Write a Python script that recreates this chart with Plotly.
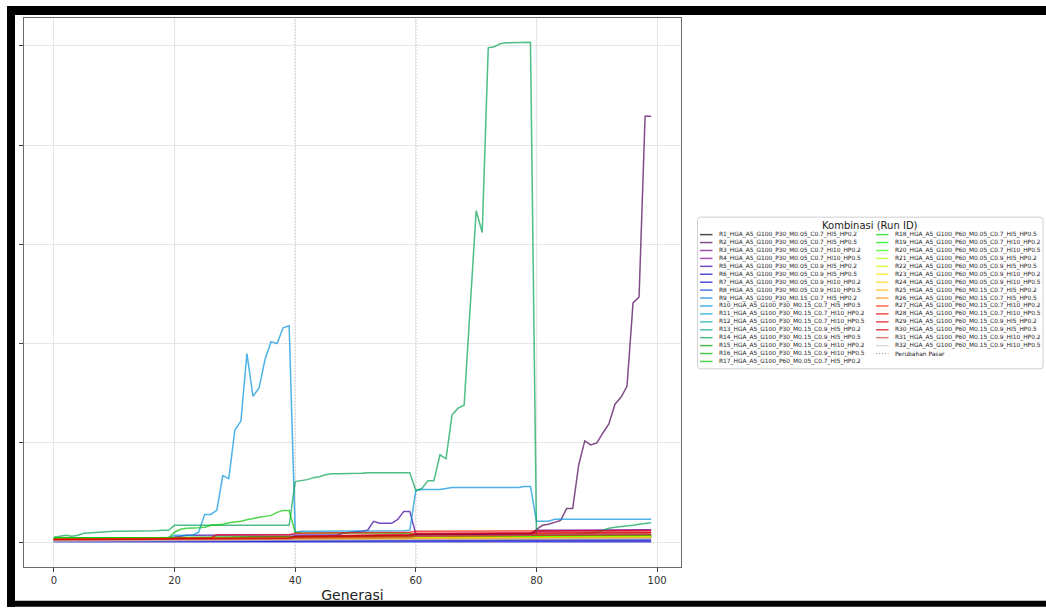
import numpy as np
import plotly.graph_objects as go

# ---------------- DATA ----------------
GENS = list(range(100))
MARKET_CHANGES = [20, 40, 60, 80]
X_TICKS = [0, 20, 40, 60, 80, 100]
Y_TICKS = [0, 100, 200, 300, 400, 500]

RUN_IDS = [
    "R1_HGA_A5_G100_P30_M0.05_C0.7_HI5_HP0.2",
    "R2_HGA_A5_G100_P30_M0.05_C0.7_HI5_HP0.5",
    "R3_HGA_A5_G100_P30_M0.05_C0.7_HI10_HP0.2",
    "R4_HGA_A5_G100_P30_M0.05_C0.7_HI10_HP0.5",
    "R5_HGA_A5_G100_P30_M0.05_C0.9_HI5_HP0.2",
    "R6_HGA_A5_G100_P30_M0.05_C0.9_HI5_HP0.5",
    "R7_HGA_A5_G100_P30_M0.05_C0.9_HI10_HP0.2",
    "R8_HGA_A5_G100_P30_M0.05_C0.9_HI10_HP0.5",
    "R9_HGA_A5_G100_P30_M0.15_C0.7_HI5_HP0.2",
    "R10_HGA_A5_G100_P30_M0.15_C0.7_HI5_HP0.5",
    "R11_HGA_A5_G100_P30_M0.15_C0.7_HI10_HP0.2",
    "R12_HGA_A5_G100_P30_M0.15_C0.7_HI10_HP0.5",
    "R13_HGA_A5_G100_P30_M0.15_C0.9_HI5_HP0.2",
    "R14_HGA_A5_G100_P30_M0.15_C0.9_HI5_HP0.5",
    "R15_HGA_A5_G100_P30_M0.15_C0.9_HI10_HP0.2",
    "R16_HGA_A5_G100_P30_M0.15_C0.9_HI10_HP0.5",
    "R17_HGA_A5_G100_P60_M0.05_C0.7_HI5_HP0.2",
    "R18_HGA_A5_G100_P60_M0.05_C0.7_HI5_HP0.5",
    "R19_HGA_A5_G100_P60_M0.05_C0.7_HI10_HP0.2",
    "R20_HGA_A5_G100_P60_M0.05_C0.7_HI10_HP0.5",
    "R21_HGA_A5_G100_P60_M0.05_C0.9_HI5_HP0.2",
    "R22_HGA_A5_G100_P60_M0.05_C0.9_HI5_HP0.5",
    "R23_HGA_A5_G100_P60_M0.05_C0.9_HI10_HP0.2",
    "R24_HGA_A5_G100_P60_M0.05_C0.9_HI10_HP0.5",
    "R25_HGA_A5_G100_P60_M0.15_C0.7_HI5_HP0.2",
    "R26_HGA_A5_G100_P60_M0.15_C0.7_HI5_HP0.5",
    "R27_HGA_A5_G100_P60_M0.15_C0.7_HI10_HP0.2",
    "R28_HGA_A5_G100_P60_M0.15_C0.7_HI10_HP0.5",
    "R29_HGA_A5_G100_P60_M0.15_C0.9_HI5_HP0.2",
    "R30_HGA_A5_G100_P60_M0.15_C0.9_HI5_HP0.5",
    "R31_HGA_A5_G100_P60_M0.15_C0.9_HI10_HP0.2",
    "R32_HGA_A5_G100_P60_M0.15_C0.9_HI10_HP0.5",
]
MARKET_LABEL = "Perubahan Pasar"

# Runs with visible dynamics: one value per generation (0..99)
R2_VALS = [3, 3, 3, 3, 3, 3, 3, 3, 3, 3.5, 3.5, 3.5, 3.5, 3.5, 3.5, 3.5, 3.5, 3.5, 3.5, 3.5,
           4, 4, 4, 4, 4, 4.5, 4.5, 4.5, 4.5, 4.5, 4.5, 4.5, 4.5, 5, 5, 5, 5, 5, 5, 5,
           5, 5, 5, 5, 5, 5, 5, 5.5, 5.5, 5.5, 5.5, 5.5, 5.5, 5.5, 5.5, 6, 6, 6, 6, 6,
           6, 6, 6, 6, 6, 6, 6, 6, 6, 6, 6, 6, 6, 6, 6, 6, 6, 6, 6, 6,
           13, 17, 18, 20, 22, 34, 34, 78, 102, 98, 100, 110, 119, 139, 146, 157, 241, 247, 429, 429]
R5_VALS = [2, 2, 2, 2, 2, 2, 2, 2, 2, 2, 2, 2, 2, 2, 2, 2, 2, 2, 2, 2,
           5, 6, 7, 7, 7, 7, 7, 7, 7, 7, 7, 7, 7, 7, 7, 7, 7, 7, 7, 7,
           7, 7, 7, 7, 7, 7, 7, 7.5, 9, 10, 10.5, 11, 12, 21, 19, 19, 19, 23, 31, 31,
           8, 8, 8, 8, 8, 8, 8, 8, 8, 8, 8, 8, 8, 8, 8, 8, 8, 8, 8, 8,
           7, 7, 7, 7, 7, 7, 7, 7, 7, 7, 7, 7, 7, 7, 7, 7, 7, 7, 7, 7]
R10_VALS = [4, 4, 4, 4, 4, 4, 4, 4, 4, 4, 4, 4, 4, 4, 4, 4, 4.5, 4.5, 4.5, 4.5,
            7, 7, 7, 7, 10, 28, 28, 32, 67, 64, 113, 122, 190, 147, 155, 184, 202, 200, 216, 218,
            10, 11, 11, 11, 11, 11.5, 11.5, 11.5, 11.5, 11.5, 11.5, 11.5, 11.5, 11.5, 11.5, 11.5, 11.5, 11.5, 11.5, 12,
            52, 53, 53, 53, 53, 54, 55, 55, 55, 55, 55, 55, 55, 55, 55, 55, 55, 55, 56, 56,
            21, 21, 21, 23, 23, 23, 23, 23, 23, 23, 23, 23, 23, 23, 23, 23, 23, 23, 23, 23]
R14_VALS = [5, 6, 7, 6, 7, 9, 9.5, 10, 10, 10.5, 11, 11, 11, 11, 11.5, 11.5, 11.5, 11.5, 12, 12,
            17, 17, 17, 17, 17, 17, 17, 17, 17, 17, 17, 17, 17, 17, 17, 17, 17, 17, 17, 17,
            61, 62, 63, 65, 66, 68, 69, 69, 69, 69.5, 69.5, 69.5, 70, 70, 70, 70, 70, 70, 70, 70,
            52, 54, 62, 62, 88, 84, 128, 135, 138, 236, 334, 312, 498, 499, 502, 503, 503, 503, 503, 503.5,
            5, 5, 5, 5, 5, 7, 7.5, 8, 8.5, 9, 10, 12, 14, 15, 15.5, 16.5, 17, 18, 18.5, 19.5]
R17_VALS = [4, 4, 4, 4, 4, 4, 4, 4, 4, 4, 4, 4, 4, 4, 4, 4, 4, 4, 4, 4.5,
            10, 13, 14, 14, 14.5, 15, 17, 17.5, 18, 19.5, 20, 21, 22.5, 24, 25, 26, 27, 30, 32, 32,
            10, 9.5, 9.5, 9, 9, 9, 9, 9, 9, 9, 9, 9, 9, 9, 9, 9, 9, 9, 9, 9,
            5, 5, 5, 5, 5, 5, 5, 5, 5, 5, 5, 5, 5, 5, 5, 5, 5, 5, 5, 5,
            5.5, 5.5, 5.5, 5.5, 5.5, 5.5, 5.5, 5.5, 5.5, 5.5, 5.5, 5.5, 5.5, 5.5, 5.5, 5.5, 5.5, 5.5, 5.5, 5.5]

# Flat runs: values read at the start/end generation of each market phase
PHASE_GENS = [0, 19, 20, 39, 40, 59, 60, 79, 80, 99]
R1_VALS = [2, 2.5, 3, 4, 4, 5, 5, 6, 6, 7]
R3_VALS = [3, 3.5, 4, 5, 6, 7, 8, 9, 12, 12.5]
R4_VALS = [2.5, 3, 4, 4.5, 5, 6, 7, 8, 11, 12]
R6_VALS = [1, 1, 1.5, 1.5, 1.5, 2, 2, 2, 2, 2]
R7_VALS = [0.5, 0.5, 0.5, 0.5, 0.5, 0.5, 0.5, 0.5, 0.5, 0.5]
R8_VALS = [1.5, 2, 2, 2.5, 2.5, 3, 3, 3, 3, 3.5]
R9_VALS = [3, 3.5, 4, 5, 5, 6, 6, 7, 7, 8]
R11_VALS = [2, 2.5, 3, 3.5, 4, 4.5, 4.5, 5, 5, 5.5]
R12_VALS = [3, 3.5, 4.5, 5, 5, 5.5, 5.5, 6, 6, 6.5]
R13_VALS = [3.5, 4, 4.5, 5, 5, 5, 5, 6, 6, 6]
R15_VALS = [4, 4.5, 5, 5.5, 5, 5.5, 5, 5.5, 5.5, 6]
R16_VALS = [4, 4, 4.5, 5, 4.5, 5, 4.5, 5, 5, 5.5]
R18_VALS = [4, 4.5, 5, 5.5, 5.5, 6, 6, 6, 6, 6.5]
R19_VALS = [3.5, 4, 4.5, 5, 5, 5.5, 5.5, 6, 6, 6]
R20_VALS = [3, 3.5, 4, 4.5, 4.5, 5, 5, 5.5, 5.5, 6]
R21_VALS = [3, 3, 3.5, 4, 4, 4.5, 4.5, 5, 5, 5.5]
R22_VALS = [2.5, 3, 3, 3.5, 3.5, 4, 4, 4.5, 4.5, 5]
R23_VALS = [2.5, 2.5, 3, 3.5, 3.5, 4, 4, 4.5, 4.5, 5]
R24_VALS = [2.5, 3, 3, 3.5, 3.5, 4, 4, 4.5, 4.5, 4.5]
R25_VALS = [2, 2.5, 3, 3, 3, 3.5, 3.5, 4, 4, 4.5]
R26_VALS = [2, 2.5, 2.5, 3, 3, 3.5, 3.5, 4, 4, 4]
R27_VALS = [3, 3.5, 4, 5, 5, 6, 6, 7, 7, 7.5]
R29_VALS = [2.5, 3, 3.5, 4, 6, 8, 9, 10, 9.5, 10]
R30_VALS = [2, 2.5, 3, 3.5, 5, 7, 8, 9, 9, 9.5]
R31_VALS = [1.5, 2, 2.5, 3, 4, 5, 6, 7, 8, 8.5]
R32_VALS = [1, 1.5, 2, 2, 2.5, 3, 3, 3.5, 3.5, 4]
R28_GENS = [0, 19, 20, 26, 27, 39, 40, 59, 60, 79, 80, 99]
R28_VALS = [3, 3, 4, 4, 7.5, 7.5, 9, 10, 11, 11, 11, 11.5]

SERIES = [
    (PHASE_GENS, R1_VALS), (GENS, R2_VALS), (PHASE_GENS, R3_VALS), (PHASE_GENS, R4_VALS),
    (GENS, R5_VALS), (PHASE_GENS, R6_VALS), (PHASE_GENS, R7_VALS), (PHASE_GENS, R8_VALS),
    (PHASE_GENS, R9_VALS), (GENS, R10_VALS), (PHASE_GENS, R11_VALS), (PHASE_GENS, R12_VALS),
    (PHASE_GENS, R13_VALS), (GENS, R14_VALS), (PHASE_GENS, R15_VALS), (PHASE_GENS, R16_VALS),
    (GENS, R17_VALS), (PHASE_GENS, R18_VALS), (PHASE_GENS, R19_VALS), (PHASE_GENS, R20_VALS),
    (PHASE_GENS, R21_VALS), (PHASE_GENS, R22_VALS), (PHASE_GENS, R23_VALS), (PHASE_GENS, R24_VALS),
    (PHASE_GENS, R25_VALS), (PHASE_GENS, R26_VALS), (PHASE_GENS, R27_VALS), (R28_GENS, R28_VALS),
    (PHASE_GENS, R29_VALS), (PHASE_GENS, R30_VALS), (PHASE_GENS, R31_VALS), (PHASE_GENS, R32_VALS),
]

# ---------------- STYLE ----------------
NS_POS = [0.0, 0.05, 0.10, 0.15, 0.20, 0.25, 0.30, 0.35, 0.40, 0.45, 0.50,
          0.55, 0.60, 0.65, 0.70, 0.75, 0.80, 0.85, 0.90, 0.95, 1.0]
NS_R = [0, .4667, .5333, 0, 0, 0, 0, 0, 0, 0, 0, 0, 0, .7333, .9333, 1, 1, 1, .8667, .8, .8]
NS_G = [0, 0, 0, 0, 0, .4667, .6, .6667, .6667, .6, .7333, .8667, 1, 1, .9333, .8, .6, 0, 0, 0, .8]
NS_B = [0, .5333, .6, .6667, .8667, .8667, .8667, .6667, .5333, 0, 0, 0, 0, 0, 0, 0, 0, 0, 0, 0, .8]
ALPHA = 0.7


def spectral(t, a=ALPHA):
    r = np.interp(t, NS_POS, NS_R) * 255
    g = np.interp(t, NS_POS, NS_G) * 255
    b = np.interp(t, NS_POS, NS_B) * 255
    return f"rgba({r:.0f},{g:.0f},{b:.0f},{a})"


N = len(RUN_IDS)
COLORS = [spectral(i / (N - 1)) for i in range(N)]

W, H = 1046, 612
L, R, T, B = 24, 365, 18, 40
PW, PH = W - L - R, H - T - B


def px(x):
    return (x - L) / PW


def py(y):
    return (H - B - y) / PH


FONT = "DejaVu Sans"
DOT_LINE = dict(color="rgba(110,110,110,0.75)", width=1.1, dash="1px,2px")

fig = go.Figure()
for name, (gx, vals), col in zip(RUN_IDS, SERIES, COLORS):
    fig.add_trace(go.Scatter(x=gx, y=vals, mode="lines", name=name,
                             line=dict(color=col, width=1.5), showlegend=False,
                             hoverinfo="skip"))

shapes = []
for g in MARKET_CHANGES:
    shapes.append(dict(type="line", xref="x", yref="paper", x0=g, x1=g, y0=0, y1=1,
                       line=DOT_LINE, layer="between"))

# black screenshot frame
for (x0, x1, y0, y1) in [(7, W, 6, 15), (7, 15, 6, H), (7, W, 606, H)]:
    shapes.append(dict(type="rect", xref="paper", yref="paper",
                       x0=px(x0), x1=px(x1), y0=py(y1), y1=py(y0),
                       fillcolor="black", line=dict(width=0), layer="above"))

# legend box (rounded)
lx0, lx1, ly0, ly1, rad = 697.5, 1043, 219, 372, 3
path = (f"M {px(lx0 + rad)},{py(ly0)} L {px(lx1 - rad)},{py(ly0)} "
        f"Q {px(lx1)},{py(ly0)} {px(lx1)},{py(ly0 + rad)} "
        f"L {px(lx1)},{py(ly1 - rad)} Q {px(lx1)},{py(ly1)} {px(lx1 - rad)},{py(ly1)} "
        f"L {px(lx0 + rad)},{py(ly1)} Q {px(lx0)},{py(ly1)} {px(lx0)},{py(ly1 - rad)} "
        f"L {px(lx0)},{py(ly0 + rad)} Q {px(lx0)},{py(ly0)} {px(lx0 + rad)},{py(ly0)} Z")
shapes.append(dict(type="path", xref="paper", yref="paper", path=path,
                   fillcolor="rgba(255,255,255,0.9)", line=dict(color="#cfcfcf", width=1),
                   layer="above"))

annotations = [dict(text="Kombinasi (Run ID)", xref="paper", yref="paper",
                    x=px((lx0 + lx1) / 2), y=py(227.2), showarrow=False,
                    xanchor="center", yanchor="middle",
                    font=dict(family=FONT, size=10, color="#222"))]

entries = [(n, dict(color=c, width=1.5)) for n, c in zip(RUN_IDS, COLORS)]
entries.append((MARKET_LABEL, DOT_LINE))
ROW0, ROWH = 236.6, 8.0
for i, (label, ln) in enumerate(entries):
    col = 0 if i < 17 else 1
    row = i if i < 17 else i - 17
    sx0 = 700 if col == 0 else 876
    tx = 716.5 if col == 0 else 893
    yy = ROW0 + row * ROWH
    shapes.append(dict(type="line", xref="paper", yref="paper",
                       x0=px(sx0), x1=px(sx0 + 12.5), y0=py(yy), y1=py(yy),
                       line=ln, layer="above"))
    annotations.append(dict(text=label, xref="paper", yref="paper", x=px(tx), y=py(yy),
                            showarrow=False, xanchor="left", yanchor="middle",
                            font=dict(family=FONT, size=5.9, color="#222")))

fig.update_layout(
    width=W, height=H,
    margin=dict(l=L, r=R, t=T, b=B, pad=0),
    paper_bgcolor="white", plot_bgcolor="white",
    shapes=shapes, annotations=annotations,
    showlegend=False,
    xaxis=dict(range=[-4.95, 103.95], tickvals=X_TICKS, ticks="outside", ticklen=3.5,
               tickcolor="#444", showgrid=True, gridcolor="#e6e6e6", gridwidth=1,
               showline=True, linecolor="#6a6a6a", linewidth=1.2, mirror=True,
               zeroline=False, tickfont=dict(family=FONT, size=10, color="#333"),
               title=dict(text="Generasi", font=dict(family=FONT, size=14, color="#222"),
                          standoff=5)),
    yaxis=dict(range=[-25, 528], tickvals=Y_TICKS, showticklabels=False, ticks="outside",
               ticklen=3.5, tickcolor="#444", showgrid=True, gridcolor="#e6e6e6",
               gridwidth=1, showline=True, linecolor="#6a6a6a", linewidth=1.2,
               mirror=True, zeroline=False),
)

fig.write_html("out.html")
